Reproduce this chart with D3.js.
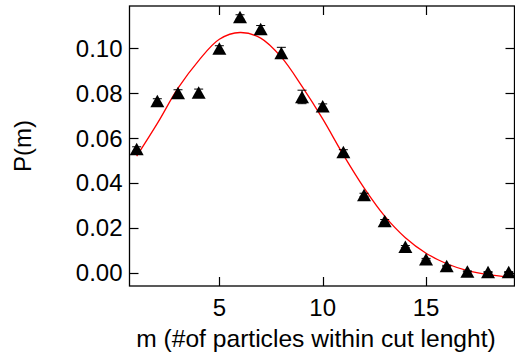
<!DOCTYPE html>
<html>
<head>
<meta charset="utf-8">
<script src="https://cdn.jsdelivr.net/npm/d3@7"></script>
<style>
  body { margin: 0; background: #fff; }
  svg { display: block; font-family: "Liberation Sans", Arial, sans-serif; }
</style>
</head>
<body>
<svg id="chart" width="515" height="356"></svg>
<script>
// measured points P(m)
var mValues = [1, 2, 3, 4, 5, 6, 7, 8, 9, 10, 11, 12, 13, 14, 15, 16, 17, 18, 19];
var pValues = [0.0551, 0.0765, 0.0800, 0.0803, 0.0999, 0.1139, 0.1086, 0.0979, 0.0783, 0.0742,
               0.0538, 0.0346, 0.0231, 0.0116, 0.0060, 0.0030, 0.0006, 0.0003, 0.0003];
var pErrors = [0.0010, 0.0010, 0.0015, 0.0015, 0.0012, 0.0010, 0.0015, 0.0025, 0.0030, 0.0010,
               0.0010, 0.0008, 0.0006, 0.0005, 0.0004, 0.0003, 0.0002, 0.0002, 0.0002];
var fitValues = [0.0519, 0.0665, 0.0822, 0.0945, 0.1040, 0.1070, 0.1045, 0.0960, 0.0830, 0.0685,
                 0.0525, 0.0378, 0.0252, 0.0156, 0.0087, 0.0040, 0.0010, -0.0008, -0.0018];
var xTicks = [5, 10, 15];
var yTicks = [0.00, 0.02, 0.04, 0.06, 0.08, 0.10];

var svg = d3.select('#chart');
var plotL = 129.5, plotR = 514.5, plotT = 6, plotB = 286;
var fs = 24;

var x = d3.scaleLinear().domain([0.653, 19.28]).range([plotL, plotR]);
var y = d3.scaleLinear().domain([-0.0059, 0.1188]).range([plotB, plotT]);

var g = svg.append('g');

// frame
g.append('rect')
    .attr('x', plotL).attr('y', plotT)
    .attr('width', plotR - plotL).attr('height', plotB - plotT)
    .attr('fill', 'none').attr('stroke', '#000').attr('stroke-width', 1.3);

// ticks on all four sides, pointing inward
var tk = 9;
xTicks.forEach(function (t) {
    var px = Math.round(x(t)) + 0.5;
    g.append('line').attr('x1', px).attr('x2', px).attr('y1', plotB).attr('y2', plotB - tk)
        .attr('stroke', '#000').attr('stroke-width', 1.2);
    g.append('line').attr('x1', px).attr('x2', px).attr('y1', plotT).attr('y2', plotT + tk)
        .attr('stroke', '#000').attr('stroke-width', 1.2);
    g.append('text').attr('x', x(t)).attr('y', 316)
        .attr('text-anchor', 'middle').attr('font-size', fs).text(t);
});
yTicks.forEach(function (t) {
    var py = Math.round(y(t)) + 0.5;
    g.append('line').attr('x1', plotL).attr('x2', plotL + tk).attr('y1', py).attr('y2', py)
        .attr('stroke', '#000').attr('stroke-width', 1.2);
    g.append('line').attr('x1', plotR).attr('x2', plotR - tk).attr('y1', py).attr('y2', py)
        .attr('stroke', '#000').attr('stroke-width', 1.2);
    g.append('text').attr('x', plotL - 7).attr('y', y(t) + 8.5)
        .attr('text-anchor', 'end').attr('font-size', fs).text(d3.format('.2f')(t));
});

// axis titles
g.append('text').attr('x', 316).attr('y', 347)
    .attr('text-anchor', 'middle').attr('font-size', 24.6)
    .text('m (#of particles within cut lenght)');
g.append('text')
    .attr('transform', 'translate(31,' + (plotT + plotB) / 2 + ') rotate(-90)')
    .attr('text-anchor', 'middle').attr('font-size', fs)
    .text('P(m)');

// fit line
var line = d3.line()
    .x(function (d, i) { return x(mValues[i]); })
    .y(function (d) { return y(d); })
    .curve(d3.curveCatmullRom);
g.append('path')
    .attr('d', line(fitValues))
    .attr('fill', 'none').attr('stroke', '#ff0000').attr('stroke-width', 1.3);

// error bars
var cap = 4.5;
mValues.forEach(function (m, i) {
    var cx = x(m);
    var y1 = y(pValues[i] + pErrors[i]), y2 = y(pValues[i] - pErrors[i]);
    g.append('line').attr('x1', cx).attr('x2', cx).attr('y1', y1).attr('y2', y2)
        .attr('stroke', '#000').attr('stroke-width', 1);
    g.append('line').attr('x1', cx - cap).attr('x2', cx + cap).attr('y1', y1).attr('y2', y1)
        .attr('stroke', '#000').attr('stroke-width', 1);
    g.append('line').attr('x1', cx - cap).attr('x2', cx + cap).attr('y1', y2).attr('y2', y2)
        .attr('stroke', '#000').attr('stroke-width', 1);
});

// triangle markers
var tw = 14, th = 12.5;
g.selectAll('path.marker')
    .data(pValues)
    .enter()
    .append('path')
    .attr('class', 'marker')
    .attr('transform', function (d, i) { return 'translate(' + x(mValues[i]) + ',' + y(d) + ')'; })
    .attr('d', 'M0,' + (-th / 2) + 'L' + (tw / 2) + ',' + (th / 2) + 'L' + (-tw / 2) + ',' + (th / 2) + 'Z')
    .attr('fill', '#000');
</script>
</body>
</html>
